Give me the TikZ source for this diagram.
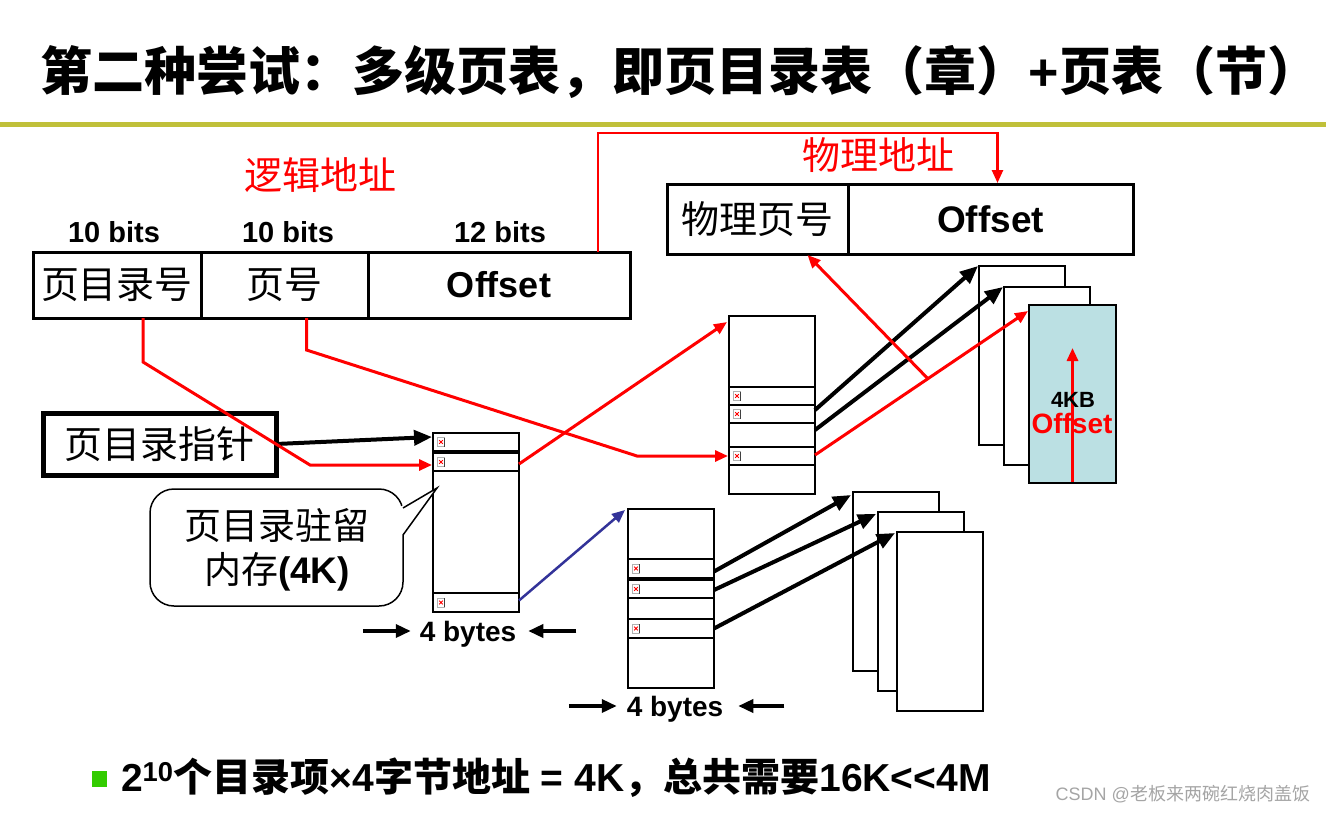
\documentclass[tikz,border=0pt]{standalone}
\usepackage{fontspec}
\setmainfont{Liberation Sans}
\newfontfamily\cjk{Noto Sans CJK SC}
\usetikzlibrary{arrows.meta,calc}
\newcommand\myfs[1]{\fontsize{#1}{#1}\selectfont}
\definecolor{barolive}{RGB}{192,192,58}
\definecolor{pagecyan}{RGB}{187,224,227}
\definecolor{ptrblue}{RGB}{51,51,153}
\definecolor{bulletgreen}{RGB}{51,204,0}
\definecolor{wmgray}{RGB}{165,165,165}
\tikzset{
  every node/.style={inner sep=0pt, outer sep=0pt},
  cellbox/.style={draw, line width=3, anchor=north west},
  tblbox/.style={draw, line width=1.6, anchor=north west, minimum width=86},
  entrybox/.style={draw, line width=2.2, anchor=north west, minimum width=86},
  framebox/.style={draw, line width=1.6, fill=white, anchor=north west, minimum width=86, minimum height=179},
  blkarr/.style={line width=4, -{Triangle[length=18pt,width=15pt]}},
  redarr/.style={red, line width=3, -{Triangle[length=13pt,width=11pt]}},
  bluearr/.style={ptrblue, line width=2.5, -{Triangle[length=13pt,width=11pt]}},
  bytearr/.style={line width=3.5, -{Triangle[length=15pt,width=13pt]}},
  bimg/.pic={
    \draw[black!30, line width=0.6, fill=white] (-3.5,-4.5) rectangle (3.5,4.5);
    \draw[black!75, line width=0.8] (3.5,-4.5) -- (3.5,4.5);
    \draw[red, line width=0.9] (-1.8,-1.8) -- (1.8,1.8) (-1.8,1.8) -- (1.8,-1.8);
  }
}
\begin{document}
\begin{tikzpicture}[x=1pt,y=-1pt]
\useasboundingbox (0,0) rectangle (1326,812);
\fill[white] (0,0) rectangle (1326,812);

% title and rule
\node (title) at (680,72) {\myfs{52}\cjk\bfseries 第二种尝试：多级页表，即页目录表（章）{\rmfamily +}页表（节）};
\draw[barolive, line width=5] (0,124.5) -- (1326,124.5);

% logical address
\node[red] (lalabel) at (320,175) {\myfs{38}\cjk 逻辑地址};
\node (b1) at (114,232) {\myfs{29}\bfseries 10 bits};
\node (b2) at (288,232) {\myfs{29}\bfseries 10 bits};
\node (b3) at (500,232) {\myfs{29}\bfseries 12 bits};
\node[cellbox, minimum width=168, minimum height=66] (la1) at (33,252) {\myfs{38}\cjk 页目录号};
\node[cellbox, minimum width=167, minimum height=66] (la2) at (201,252) {\myfs{38}\cjk 页号};
\node[cellbox, minimum width=262, minimum height=66] (la3) at (368,252) {\myfs{36}\bfseries Offset};

% physical address
\node[red] (palabel) at (878,155) {\myfs{38}\cjk 物理地址};
\node[cellbox, minimum width=181, minimum height=70] (pa1) at (667,184) {\myfs{38}\cjk 物理页号};
\node[cellbox, minimum width=285, minimum height=70] (pa2) at (848,184) {\myfs{37}\bfseries Offset};

% directory pointer
\node[draw, line width=5, minimum width=233, minimum height=62, anchor=north west] (ptr) at (43,413) {\myfs{38}\cjk 页目录指针};

% page directory
\node[tblbox, minimum height=179] (dir) at (433,433) {};
\node[entrybox, minimum height=18] (d1) at (433,433) {};
\node[entrybox, minimum height=18] (d2) at (433,453) {};
\node[entrybox, minimum height=19] (d3) at (433,593) {};
\pic at ($(d1.west)+(8,0)$) {bimg};
\pic at ($(d2.west)+(8,0)$) {bimg};
\pic at ($(d3.west)+(8,0)$) {bimg};

% page table 1
\node[tblbox, minimum height=178] (pt1) at (729,316) {};
\node[entrybox, minimum height=18] (p1a) at (729,387) {};
\node[entrybox, minimum height=18] (p1b) at (729,405) {};
\node[entrybox, minimum height=18] (p1c) at (729,447) {};
\pic at ($(p1a.west)+(8,0)$) {bimg};
\pic at ($(p1b.west)+(8,0)$) {bimg};
\pic at ($(p1c.west)+(8,0)$) {bimg};

% page table 2
\node[tblbox, minimum height=179] (pt2) at (628,509) {};
\node[entrybox, minimum height=19] (p2a) at (628,559) {};
\node[entrybox, minimum height=18] (p2b) at (628,580) {};
\node[entrybox, minimum height=19] (p2c) at (628,619) {};
\pic at ($(p2a.west)+(8,0)$) {bimg};
\pic at ($(p2b.west)+(8,0)$) {bimg};
\pic at ($(p2c.west)+(8,0)$) {bimg};

% page frames (upper)
\node[framebox] (f1) at (979,266) {};
\node[framebox, minimum height=178] (f2) at (1004,287) {};
\node[framebox, minimum height=178, minimum width=87, fill=pagecyan] (f3) at (1029,305) {};
\draw[redarr] ($(f3.south)+(0,-1)$) -- ($(f3.north)+(0,43)$);
\node (kb) at (1073,400) {\myfs{22}\bfseries 4KB};
\node[red] (foff) at (1072,423) {\myfs{28}\bfseries Offset};

% page frames (lower)
\node[framebox] (g1) at (853,492) {};
\node[framebox] (g2) at (878,512) {};
\node[framebox] (g3) at (897,532) {};

% connectors
\draw[blkarr] (ptr.east) -- ($(d1.west)+(-1,-5)$);
\draw[redarr] ($(la1.south)+(26,0)$) -- ++(0,44) -- ($(d2.west)+(-123,3)$) -- ($(d2.west)+(-1,3)$);
\draw[redarr] ($(la2.south)+(22,0)$) -- ++(0,32) -- ($(p1c.west)+(-92,0)$) -- ($(p1c.west)+(-1,0)$);
\draw[redarr, line width=2.5] ($(la3.north)+(99,0)$) |- ($(pa2.north)+(7,-51)$) -- ($(pa2.north)+(7,-1)$);
\draw[redarr] ($(d2.east)+(0,2)$) -- ($(pt1.north west)+(-2,6)$);
\draw[bluearr] ($(d3.east)+(0,-2)$) -- ($(pt2.north west)+(-3,1)$);

\coordinate (s1) at ($(p1b.north east)+(0,5)$);
\coordinate (s2) at ($(p1b.south east)+(0,7)$);
\coordinate (s3) at ($(p1c.east)+(0,-1)$);
\draw[blkarr] (s1) -- ($(f1.north west)+(-1,0)$);
\draw[blkarr] (s2) -- ($(f2.north west)+(-1,0)$);
\draw[redarr] (s3) -- coordinate[pos=0.53] (mid) ($(f3.north west)+(-1,6)$);
\draw[redarr] (mid) -- ($(pa1.south)+(50,1)$);

\draw[blkarr] ($(p2a.east)+(0,3)$) -- ($(g1.north west)+(-2,3)$);
\draw[blkarr] ($(p2b.east)+(0,1)$) -- ($(g2.north west)+(-2,2)$);
\draw[blkarr] (p2c.east) -- ($(g3.north west)+(-2,1)$);

% callout
\node[draw, line width=1.5, rounded corners=24, fill=white, minimum width=253, minimum height=117, anchor=north west] (callout) at (150,489) {};
\fill[white] (400,507) -- (437,488) -- (400,538) -- cycle;
\draw[line width=1.5, line join=miter] ($(callout.north east)+(0,19)$) -- (437,488) -- ($(callout.north east)+(0,46)$);
\node[align=center] (callouttext) at (277,550) {\myfs{37}\cjk 页目录驻留\\[9pt]\myfs{37}\cjk 内存{\rmfamily\bfseries (4K)}};

% 4 bytes labels
\node[anchor=base] (by1) at (468,641) {\myfs{28}\bfseries 4 bytes};
\draw[bytearr] ($(by1.base west)+(-57,-10)$) -- ($(by1.base west)+(-9,-10)$);
\draw[bytearr] ($(by1.base east)+(60,-10)$) -- ($(by1.base east)+(12,-10)$);
\node[anchor=base] (by2) at (675,716) {\myfs{28}\bfseries 4 bytes};
\draw[bytearr] ($(by2.base west)+(-58,-10)$) -- ($(by2.base west)+(-10,-10)$);
\draw[bytearr] ($(by2.base east)+(61,-10)$) -- ($(by2.base east)+(15,-10)$);

% bottom note
\fill[bulletgreen] (92,771) rectangle (107,787);
\node[anchor=base west] (note) at (121,791) {\myfs{39}\bfseries 2\textsuperscript{10}{\cjk 个目录项}×4{\cjk 字节地址} = 4K{\cjk ，总共需要}16K{<}{<}4M};
\node[anchor=base east, wmgray] (wm) at (1310,800) {\myfs{18}CSDN @{\cjk 老板来两碗红烧肉盖饭}};
\end{tikzpicture}
\end{document}
